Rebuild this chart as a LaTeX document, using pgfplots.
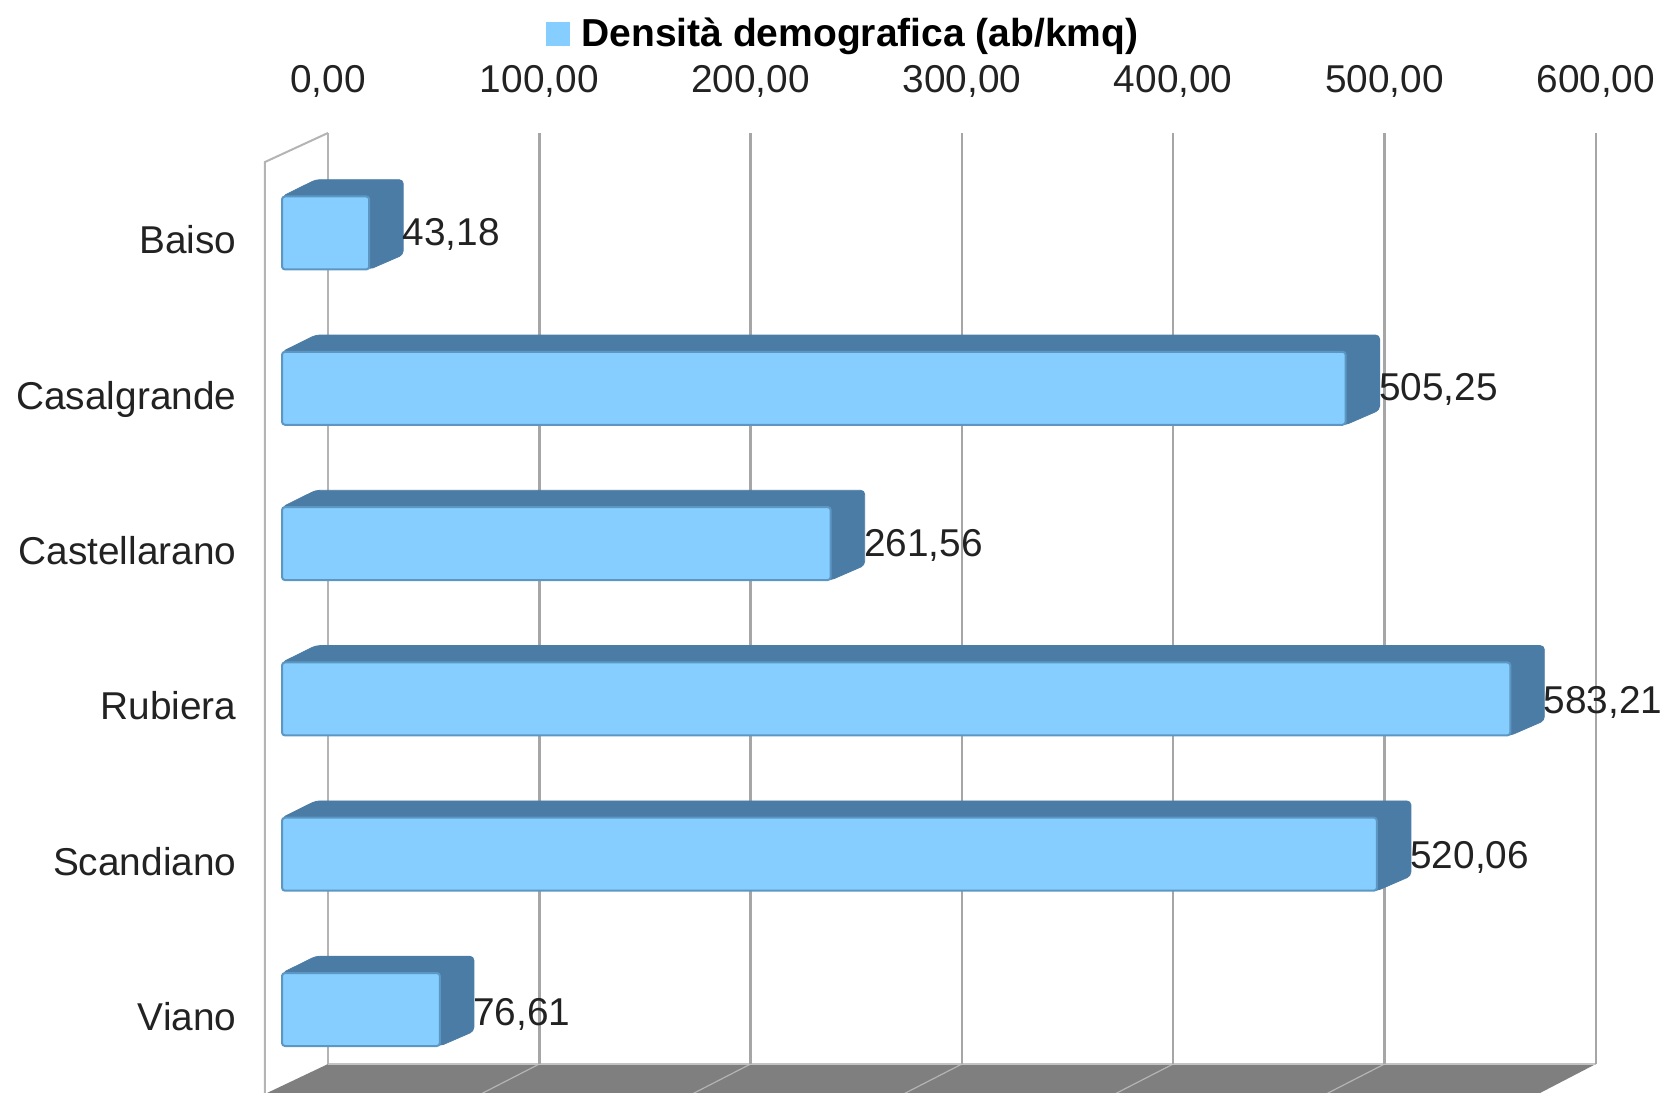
\documentclass[border=0pt]{standalone}
\usepackage{fontspec}
\setmainfont{Liberation Sans}
\usepackage{pgfplots}
\pgfplotsset{compat=1.18}
\usepackage{pgfplotstable}
\definecolor{lightb}{HTML}{85CEFF}
\definecolor{edgeb}{HTML}{5C97C4}
\definecolor{darkb}{HTML}{4B7CA5}
\definecolor{gridc}{HTML}{A6A6A6}
\definecolor{wallc}{HTML}{B4B4B4}
\definecolor{floorc}{HTML}{7F7F7F}
\definecolor{txt}{HTML}{222222}
\pgfplotstableread{
y v
0.007 43.18
1.007 505.25
2.014 261.56
3.020 583.21
4.020 520.06
5.034 76.61
}\densita
\newcommand{\lab}{\fontsize{19.4}{23}\selectfont\color{txt}}
\begin{document}
\begin{tikzpicture}
\path[use as bounding box] (0,0) rectangle (833.5pt,546.5pt);
\begin{axis}[
  at={(120pt,0pt)}, anchor=south west,
  scale only axis, width=713.5pt, height=494pt,
  xmin=-17.98, xmax=657.35, ymin=-0.824, ymax=5.5376,
  y dir=reverse,
  axis line style={draw=none}, tick style={draw=none},
  xticklabel pos=top, ytick pos=left,
  xtick={23.66,123.66,223.66,323.66,423.66,523.66,623.66},
  xticklabels={{0,00},{100,00},{200,00},{300,00},{400,00},{500,00},{600,00}},
  xticklabel style={font=\lab, inner sep=0pt, yshift=3.8pt},
  ytick={0.04,1.04,2.04,3.04,4.04,5.04},
  yticklabels={Baiso,Casalgrande,Castellarano,Rubiera,Scandiano,Viano},
  yticklabel style={font=\lab, inner sep=0pt, anchor=east, xshift=-1.6pt, yshift=-0.3pt, text depth=0pt},
  legend style={draw=none, fill=none, at={(0.2144,1.0720)}, anchor=west, inner sep=0pt, font=\fontsize{19.5}{23}\selectfont\bfseries\color{black}},
  legend image code/.code={\fill[#1] (0pt,-6pt) rectangle (12pt,6pt); \path (15.5pt,0pt);},
  legend cell align=left,
]
% side wall
\addplot[draw=wallc, line width=1pt, forget plot] coordinates {(-6.15,5.6)(-6.15,-0.457)(23.66,-0.644)};
% floor
\addplot[fill=floorc, draw=none, forget plot] coordinates {(23.66,5.351)(623.66,5.351)(597.26,5.5376)(-5.2,5.5376)} --cycle;
\addplot[draw=wallc, line width=0.6pt, forget plot] coordinates {(123.66,5.351)(96.6,5.54)};
\addplot[draw=wallc, line width=0.6pt, forget plot] coordinates {(223.66,5.351)(196.6,5.54)};
\addplot[draw=wallc, line width=0.6pt, forget plot] coordinates {(323.66,5.351)(296.6,5.54)};
\addplot[draw=wallc, line width=0.6pt, forget plot] coordinates {(423.66,5.351)(396.6,5.54)};
\addplot[draw=wallc, line width=0.6pt, forget plot] coordinates {(523.66,5.351)(496.6,5.54)};
\addplot[draw=wallc!80!white, line width=0.7pt, forget plot] coordinates {(23.66,5.351)(623.66,5.351)};
% grid
\addplot[draw=wallc, line width=1pt, forget plot] coordinates {(23.66,-0.644)(23.66,5.351)};
\addplot[draw=gridc, line width=1.25pt, forget plot] coordinates {(123.66,-0.644)(123.66,5.351)};
\addplot[draw=gridc, line width=1.25pt, forget plot] coordinates {(223.66,-0.644)(223.66,5.351)};
\addplot[draw=gridc, line width=1.25pt, forget plot] coordinates {(323.66,-0.644)(323.66,5.351)};
\addplot[draw=gridc, line width=1.25pt, forget plot] coordinates {(423.66,-0.644)(423.66,5.351)};
\addplot[draw=gridc, line width=1.25pt, forget plot] coordinates {(523.66,-0.644)(523.66,5.351)};
\addplot[draw=gridc, line width=1.25pt, forget plot] coordinates {(623.66,-0.644)(623.66,5.351)};
% dark top and side faces
\addplot[fill=darkb, draw=darkb, rounded corners=2pt, forget plot] coordinates {(1.9,-0.235)(17.9,-0.343)(59.27,-0.343)(59.27,0.14)(43.18,0.235)} --cycle;
\addplot[fill=darkb, draw=darkb, rounded corners=2pt, forget plot] coordinates {(1.9,0.765)(17.9,0.657)(521.34,0.657)(521.34,1.14)(505.25,1.235)} --cycle;
\addplot[fill=darkb, draw=darkb, rounded corners=2pt, forget plot] coordinates {(1.9,1.765)(17.9,1.657)(277.65,1.657)(277.65,2.14)(261.56,2.235)} --cycle;
\addplot[fill=darkb, draw=darkb, rounded corners=2pt, forget plot] coordinates {(1.9,2.765)(17.9,2.657)(599.30,2.657)(599.30,3.14)(583.21,3.235)} --cycle;
\addplot[fill=darkb, draw=darkb, rounded corners=2pt, forget plot] coordinates {(1.9,3.765)(17.9,3.657)(536.15,3.657)(536.15,4.14)(520.06,4.235)} --cycle;
\addplot[fill=darkb, draw=darkb, rounded corners=2pt, forget plot] coordinates {(1.9,4.765)(17.9,4.657)(92.70,4.657)(92.70,5.14)(76.61,5.235)} --cycle;
% front faces
\addplot[fill=lightb, draw=edgeb, line width=1pt, rounded corners=1.5pt, forget plot] coordinates {(1.9,-0.235)(43.18,-0.235)(43.18,0.235)(1.9,0.235)} --cycle;
\addplot[fill=lightb, draw=edgeb, line width=1pt, rounded corners=1.5pt, forget plot] coordinates {(1.9,0.765)(505.25,0.765)(505.25,1.235)(1.9,1.235)} --cycle;
\addplot[fill=lightb, draw=edgeb, line width=1pt, rounded corners=1.5pt, forget plot] coordinates {(1.9,1.765)(261.56,1.765)(261.56,2.235)(1.9,2.235)} --cycle;
\addplot[fill=lightb, draw=edgeb, line width=1pt, rounded corners=1.5pt, forget plot] coordinates {(1.9,2.765)(583.21,2.765)(583.21,3.235)(1.9,3.235)} --cycle;
\addplot[fill=lightb, draw=edgeb, line width=1pt, rounded corners=1.5pt, forget plot] coordinates {(1.9,3.765)(520.06,3.765)(520.06,4.235)(1.9,4.235)} --cycle;
\addplot[fill=lightb, draw=edgeb, line width=1pt, rounded corners=1.5pt, forget plot] coordinates {(1.9,4.765)(76.61,4.765)(76.61,5.235)(1.9,5.235)} --cycle;
% value labels carried by the bar series
\addplot[xbar, bar width=36.5pt, draw=none, fill=none, forget plot,
  nodes near coords,
  nodes near coords style={font=\lab, anchor=west, inner sep=0pt, xshift=16.5pt, yshift=0pt,
     /pgf/number format/.cd, use comma, fixed, fixed zerofill, precision=2, 1000 sep={}, assume math mode=true},
] table[x=v,y=y] {\densita};
\addlegendimage{fill=lightb, draw=none}
\addlegendentry{Densità demografica (ab/kmq)}
\end{axis}
\end{tikzpicture}
\end{document}
